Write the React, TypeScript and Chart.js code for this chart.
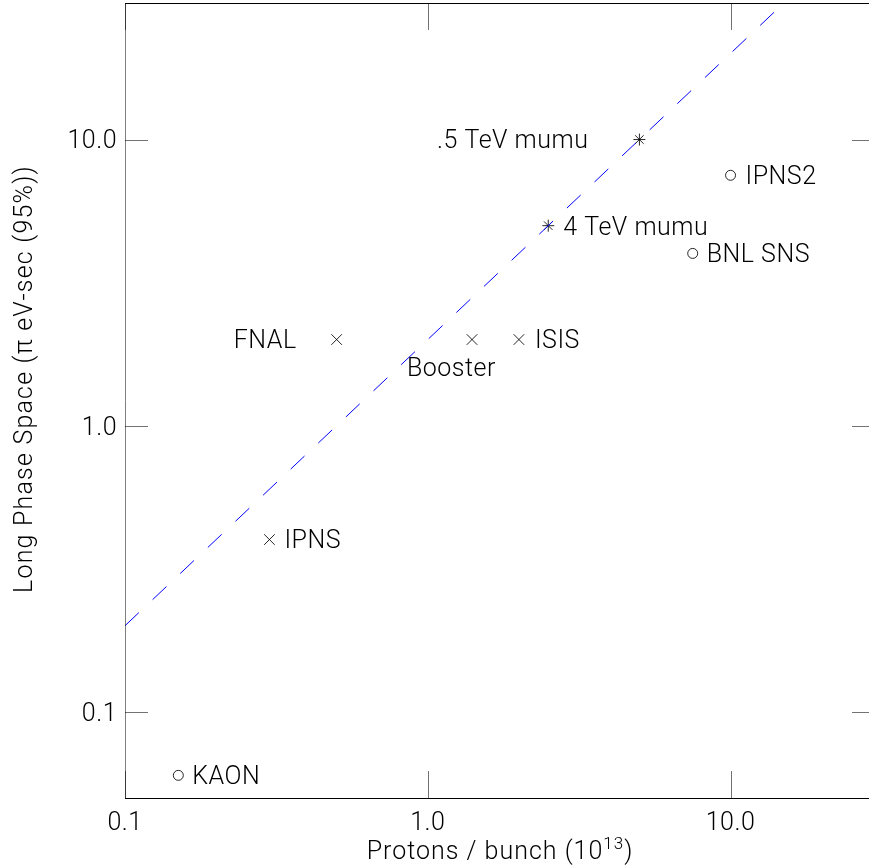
import { useEffect, useRef } from 'react';
import { Chart, registerables } from 'chart.js';

Chart.register(...registerables);

// Printed axis ticks
const xTickValues = [0.1, 1, 10];
const xTickLabels = ['0.1', '1.0', '10.0'];
const yTickValues = [0.1, 1, 10];
const yTickLabels = ['0.1', '1.0', '10.0'];

// Proton machines: bunch intensity (10^13) vs. longitudinal phase space (π eV-sec, 95%)
const machineNames = ['KAON', 'IPNS', 'FNAL', 'Booster', 'ISIS', '4 TeV mumu', '.5 TeV mumu', 'IPNS2', 'BNL SNS'];
const protonsPerBunch = [0.15, 0.3, 0.5, 1.4, 2.0, 2.5, 5.0, 10.0, 7.5];
const longPhaseSpace = [0.06, 0.4, 2.0, 2.0, 2.0, 5.0, 10.0, 7.5, 4.0];
const markerStyles = ['circle', 'crossRot', 'crossRot', 'crossRot', 'crossRot', 'star', 'star', 'circle', 'circle'];

// Scaling line: phase space = 2 × protons per bunch
const lineProtons = [0.1, 15];
const linePhaseSpace = [0.2, 30];

// Axis extents
const X_MIN = 0.1;
const X_MAX = 30;
const Y_MIN = 0.05;
const Y_MAX = 30;

// Where each machine's name sits relative to its marker (pixels)
const labelPlacement: { dx: number; dy: number; align: CanvasTextAlign }[] = [
  { dx: 14, dy: 0, align: 'left' },
  { dx: 15, dy: 0, align: 'left' },
  { dx: -40, dy: 0, align: 'right' },
  { dx: -65, dy: 28, align: 'left' },
  { dx: 16, dy: 0, align: 'left' },
  { dx: 15, dy: 0, align: 'left' },
  { dx: -51, dy: 0, align: 'right' },
  { dx: 15, dy: 0, align: 'left' },
  { dx: 14, dy: 0, align: 'left' },
];

const FAMILY = 'Roboto, "DejaVu Sans", sans-serif';
const TEXT_SIZE = 25;
const CAP = 0.711;
const X_TICK_LEN = 27;
const Y_TICK_LEN = 23;

const framePlugin = {
  id: 'frameTicksLabels',
  afterDatasetsDraw(chart: any) {
    const { ctx, chartArea: a, scales } = chart;
    const xs = scales.x;
    const ys = scales.y;
    ctx.save();
    ctx.lineWidth = 1;

    // frame
    ctx.strokeStyle = '#000';
    ctx.beginPath();
    ctx.moveTo(a.left, a.top + 0.5);
    ctx.lineTo(a.right, a.top + 0.5);
    ctx.moveTo(a.left, a.bottom + 0.5);
    ctx.lineTo(a.right, a.bottom + 0.5);
    ctx.stroke();
    ctx.strokeStyle = 'rgba(0,0,0,0.5)';
    ctx.beginPath();
    ctx.moveTo(a.left + 0.5, a.top);
    ctx.lineTo(a.left + 0.5, a.bottom);
    ctx.moveTo(a.right - 0.5, a.top);
    ctx.lineTo(a.right - 0.5, a.bottom);
    ctx.stroke();

    // inward major ticks on all four sides
    ctx.strokeStyle = 'rgba(0,0,0,0.55)';
    ctx.beginPath();
    xTickValues.forEach((v) => {
      const px = Math.round(xs.getPixelForValue(v)) + 0.5;
      ctx.moveTo(px, a.top);
      ctx.lineTo(px, a.top + X_TICK_LEN);
      ctx.moveTo(px, a.bottom);
      ctx.lineTo(px, a.bottom - X_TICK_LEN);
    });
    yTickValues.forEach((v) => {
      const py = Math.round(ys.getPixelForValue(v)) + 0.5;
      ctx.moveTo(a.left, py);
      ctx.lineTo(a.left + Y_TICK_LEN, py);
      ctx.moveTo(a.right, py);
      ctx.lineTo(a.right - Y_TICK_LEN, py);
    });
    ctx.stroke();

    ctx.fillStyle = '#000';
    ctx.textBaseline = 'alphabetic';
    const capHalf = (TEXT_SIZE * CAP) / 2;
    ctx.font = `300 ${TEXT_SIZE}px ${FAMILY}`;
    (ctx as any).letterSpacing = '0.5px';

    // tick labels
    ctx.textAlign = 'center';
    xTickValues.forEach((v, i) => {
      ctx.fillText(xTickLabels[i], xs.getPixelForValue(v), a.bottom + 32);
    });
    ctx.textAlign = 'right';
    yTickValues.forEach((v, i) => {
      ctx.fillText(yTickLabels[i], a.left - 8, ys.getPixelForValue(v) + capHalf);
    });

    // machine names
    machineNames.forEach((name, i) => {
      const p = labelPlacement[i];
      const px = xs.getPixelForValue(protonsPerBunch[i]);
      const py = ys.getPixelForValue(longPhaseSpace[i]);
      ctx.textAlign = p.align;
      ctx.fillText(name, px + p.dx, py + p.dy + capHalf);
    });

    // x title with superscript exponent
    (ctx as any).letterSpacing = '1px';
    const main = 'Protons / bunch (10';
    const sup = '13';
    const tail = ')';
    const supFont = `300 17px ${FAMILY}`;
    const mainFont = `300 ${TEXT_SIZE}px ${FAMILY}`;
    ctx.font = mainFont;
    const wMain = ctx.measureText(main).width;
    const wTail = ctx.measureText(tail).width;
    ctx.font = supFont;
    const wSup = ctx.measureText(sup).width;
    const total = wMain + wSup + wTail;
    const cx = (a.left + a.right) / 2;
    let x0 = cx - total / 2;
    const base = a.bottom + 61;
    ctx.textAlign = 'left';
    ctx.font = mainFont;
    ctx.fillText(main, x0, base);
    x0 += wMain;
    ctx.font = supFont;
    ctx.fillText(sup, x0, base - 10);
    x0 += wSup;
    ctx.font = mainFont;
    ctx.fillText(tail, x0, base);

    // y title
    ctx.save();
    ctx.translate(32, 379);
    ctx.rotate(-Math.PI / 2);
    ctx.textAlign = 'center';
    ctx.font = mainFont;
    (ctx as any).letterSpacing = '1.2px';
    ctx.fillText('Long Phase Space (\u03c0 eV-sec (95%))', 0, 0);
    ctx.restore();

    ctx.restore();
  },
};

export default function App() {
  const canvasRef = useRef<HTMLCanvasElement | null>(null);

  useEffect(() => {
    const canvas = canvasRef.current;
    if (!canvas) return;
    const chart = new Chart(canvas, {
      type: 'scatter',
      data: {
        datasets: [
          {
            type: 'line',
            data: lineProtons.map((x, i) => ({ x, y: linePhaseSpace[i] })),
            borderColor: '#0000ff',
            borderWidth: 1,
            borderDash: [19, 19],
            pointRadius: 0,
            fill: false,
            tension: 0,
          },
          {
            type: 'scatter',
            data: protonsPerBunch.map((x, i) => ({ x, y: longPhaseSpace[i] })),
            pointStyle: markerStyles as any,
            pointRadius: markerStyles.map((s) => (s === 'circle' ? 5 : s === 'star' ? 6 : 7.5)),
            borderColor: 'rgba(0,0,0,0.85)',
            backgroundColor: 'rgba(0,0,0,0)',
            borderWidth: 1,
          },
        ],
      },
      options: {
        responsive: false,
        animation: false,
        devicePixelRatio: 1,
        layout: { autoPadding: false, padding: { top: 3, right: 5, left: 0, bottom: 0 } },
        plugins: { legend: { display: false }, tooltip: { enabled: false } },
        scales: {
          x: {
            type: 'logarithmic',
            min: X_MIN,
            max: X_MAX,
            position: 'bottom',
            grid: { display: false },
            border: { display: false },
            ticks: { display: false },
            afterFit: (s: any) => {
              s.height = 68;
            },
          },
          y: {
            type: 'logarithmic',
            min: Y_MIN,
            max: Y_MAX,
            position: 'left',
            grid: { display: false },
            border: { display: false },
            ticks: { display: false },
            afterFit: (s: any) => {
              s.width = 125;
            },
          },
        },
      },
      plugins: [framePlugin],
    });
    return () => chart.destroy();
  }, []);

  return (
    <div
      style={{
        position: 'fixed',
        left: 0,
        top: 0,
        width: 869,
        height: 866,
        overflow: 'hidden',
        background: '#fff',
      }}
    >
      <canvas ref={canvasRef} width={880} height={866} style={{ display: 'block' }} />
    </div>
  );
}
